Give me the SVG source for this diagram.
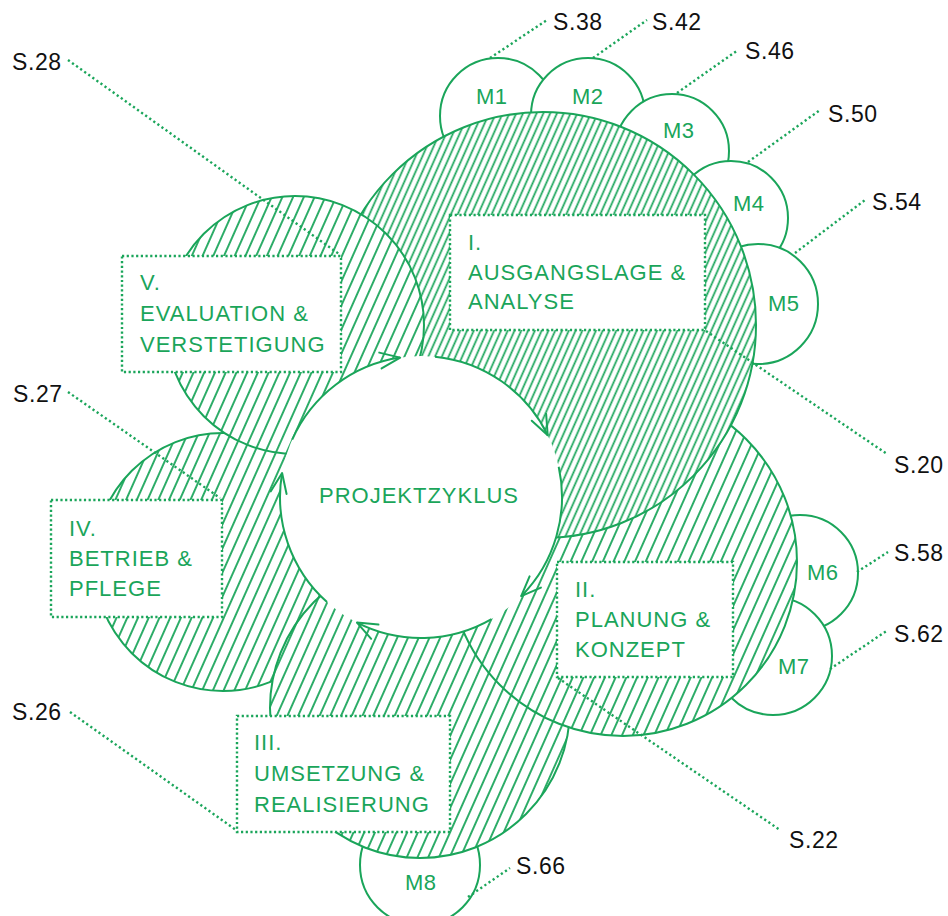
<svg xmlns="http://www.w3.org/2000/svg" width="948" height="916" viewBox="0 0 948 916">
<style>
.bg{fill:#fff}
.ring{stroke:#1aa55a;stroke-width:2;}
.m{fill:#fff;stroke:#1aa55a;stroke-width:2}
.box{fill:#fff;stroke:#1aa55a;stroke-width:2.4;stroke-dasharray:2.2 2.5}
.lead{fill:none;stroke:#1aa55a;stroke-width:2.4;stroke-dasharray:2.2 2.8}
.lbl{font-family:"Liberation Sans",Arial,sans-serif;font-size:22px;letter-spacing:1px;fill:#1aa55a}
.ml{font-family:"Liberation Sans",Arial,sans-serif;font-size:22px;letter-spacing:0.5px;fill:#1aa55a}
.pg{font-family:"Liberation Sans",Arial,sans-serif;font-size:23px;letter-spacing:0.6px;fill:#111}
.arc{fill:none;stroke:#1aa55a;stroke-width:2;marker-end:url(#ah)}
</style>
<defs>
<pattern id="hatch" patternUnits="userSpaceOnUse" width="9.8" height="30" patternTransform="rotate(24)">
<line x1="4.9" y1="-5" x2="4.9" y2="35" stroke="#1aa55a" stroke-width="1.8"/>
</pattern>
<pattern id="hatchD" patternUnits="userSpaceOnUse" width="6.2" height="30" patternTransform="rotate(24)">
<line x1="3.1" y1="-5" x2="3.1" y2="35" stroke="#1aa55a" stroke-width="1.7"/>
</pattern>
<marker id="ah" markerUnits="userSpaceOnUse" markerWidth="30" markerHeight="30" refX="0" refY="0" orient="auto" overflow="visible">
<path d="M-20,-8 L0,0 L-20,8" fill="none" stroke="#1aa55a" stroke-width="2" stroke-linecap="round" stroke-linejoin="round"/>
</marker>
</defs>

<g id="node-IV">
<circle class="bg" cx="223" cy="562" r="129"/>
<circle class="ring" cx="223" cy="562" r="129" fill="url(#hatch)"/>
</g>
<g id="node-M8">
<circle class="m" cx="420" cy="865" r="60"/>
<text class="ml" x="405" y="890">M8</text>
</g>
<g id="node-III">
<circle class="bg" cx="420" cy="708" r="150"/>
<circle class="ring" cx="420" cy="708" r="150" fill="url(#hatch)"/>
</g>
<g id="node-M6">
<circle class="m" cx="800" cy="573" r="58"/>
<text class="ml" x="807" y="580">M6</text>
</g>
<g id="node-M7">
<circle class="m" cx="773" cy="656" r="59"/>
<text class="ml" x="778" y="674">M7</text>
</g>
<g id="node-II">
<circle class="bg" cx="623" cy="562" r="174"/>
<circle class="ring" cx="623" cy="562" r="174" fill="url(#hatch)"/>
</g>
<g id="node-M1">
<circle class="m" cx="498" cy="116" r="58"/>
<text class="ml" x="476" y="104">M1</text>
</g>
<g id="node-M2">
<circle class="m" cx="588" cy="115" r="57"/>
<text class="ml" x="572" y="104">M2</text>
</g>
<g id="node-M3">
<circle class="m" cx="672" cy="151" r="57"/>
<text class="ml" x="663" y="138">M3</text>
</g>
<g id="node-M4">
<circle class="m" cx="731" cy="218" r="57"/>
<text class="ml" x="733" y="211">M4</text>
</g>
<g id="node-M5">
<circle class="m" cx="758" cy="304" r="60"/>
<text class="ml" x="768" y="311">M5</text>
</g>
<g id="node-I">
<circle class="bg" cx="543" cy="325" r="213"/>
<circle class="ring" cx="543" cy="325" r="213" fill="url(#hatchD)"/>
</g>
<g id="node-V">
<circle class="bg" cx="295" cy="325" r="129"/>
<circle class="ring" cx="295" cy="325" r="129" fill="url(#hatch)"/>
</g>

<g id="connectors">
<g id="leaders">
<path class="lead" d="M68,60 L339,254"/>
<path class="lead" d="M68,392 L220,498"/>
<path class="lead" d="M70,712 L236,830"/>
<path class="lead" d="M558,678 L780,830"/>
<path class="lead" d="M706,331 L887,454"/>
<path class="lead" d="M490,58 L547,20"/>
<path class="lead" d="M593,58 L647,20"/>
<path class="lead" d="M677,93 L738,50"/>
<path class="lead" d="M748,162 L820,110"/>
<path class="lead" d="M795,253 L865,200"/>
<path class="lead" d="M857,572 L888,552"/>
<path class="lead" d="M830,669 L888,630"/>
<path class="lead" d="M468,897 L510,868"/>
</g>
</g>

<g id="box-V">
<rect class="box" x="122" y="256" width="219" height="116"/>
<text class="lbl" x="140" y="290">V.</text>
<text class="lbl" x="140" y="321">EVALUATION &amp;</text>
<text class="lbl" x="140" y="352">VERSTETIGUNG</text>
</g>
<g id="box-I">
<rect class="box" x="450" y="215" width="255" height="115"/>
<text class="lbl" x="468" y="250">I.</text>
<text class="lbl" x="468" y="280">AUSGANGSLAGE &amp;</text>
<text class="lbl" x="468" y="309">ANALYSE</text>
</g>
<g id="box-II">
<rect class="box" x="557" y="562" width="176" height="115"/>
<text class="lbl" x="575" y="597">II.</text>
<text class="lbl" x="575" y="627">PLANUNG &amp;</text>
<text class="lbl" x="575" y="657">KONZEPT</text>
</g>
<g id="box-III">
<rect class="box" x="237" y="716" width="213" height="116"/>
<text class="lbl" x="254" y="750">III.</text>
<text class="lbl" x="254" y="781">UMSETZUNG &amp;</text>
<text class="lbl" x="254" y="812">REALISIERUNG</text>
</g>
<g id="box-IV">
<rect class="box" x="51" y="500" width="171" height="117"/>
<text class="lbl" x="69" y="536">IV.</text>
<text class="lbl" x="69" y="566">BETRIEB &amp;</text>
<text class="lbl" x="69" y="596">PFLEGE</text>
</g>

<g id="node-center">
<circle class="bg" cx="421" cy="497" r="141"/>
<text class="lbl" x="419" y="503" text-anchor="middle">PROJEKTZYKLUS</text>
</g>

<g id="cycle-arrows">
<path class="arc" d="M292.2,439.7 A141,141 0 0 1 400.2,357.6"/>
<path class="arc" d="M435,356.7 A141,141 0 0 1 547.7,435.2"/>
<path class="arc" d="M558.7,466.7 A141,141 0 0 1 521.2,596.2"/>
<path class="arc" d="M491.5,619.1 A141,141 0 0 1 357,622.6"/>
<path class="arc" d="M327,602.1 A141,141 0 0 1 282.1,473"/>
</g>

<g id="page-labels">
<text class="pg" x="553" y="30">S.38</text>
<text class="pg" x="652" y="30">S.42</text>
<text class="pg" x="745" y="59">S.46</text>
<text class="pg" x="828" y="122">S.50</text>
<text class="pg" x="872" y="210">S.54</text>
<text class="pg" x="894" y="561">S.58</text>
<text class="pg" x="894" y="642">S.62</text>
<text class="pg" x="894" y="473">S.20</text>
<text class="pg" x="789" y="848">S.22</text>
<text class="pg" x="516" y="874">S.66</text>
<text class="pg" x="12" y="70">S.28</text>
<text class="pg" x="13" y="402">S.27</text>
<text class="pg" x="12" y="720">S.26</text>
</g>
</svg>
